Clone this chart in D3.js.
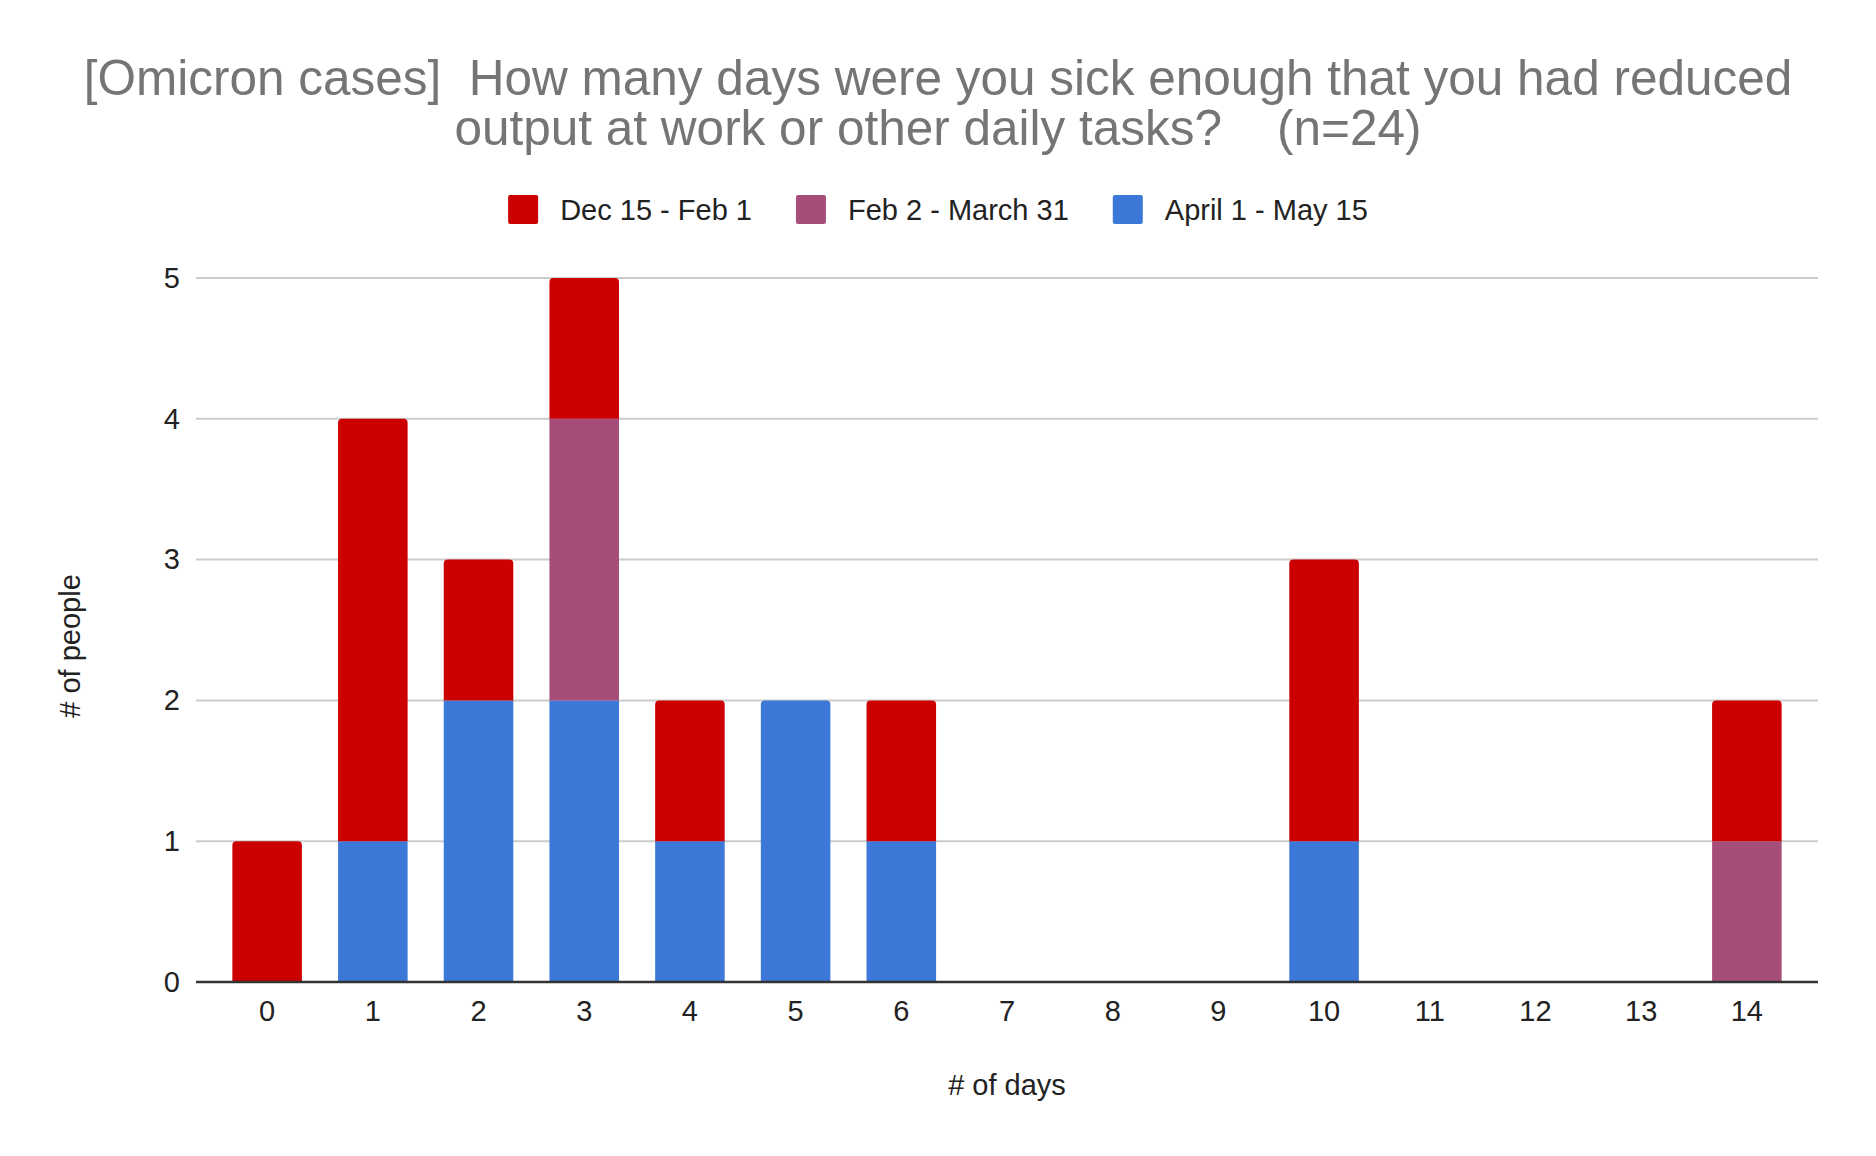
<!DOCTYPE html>
<html><head><meta charset="utf-8">
<script src="https://cdn.jsdelivr.net/npm/d3@7"></script>
<style>body{margin:0;background:#fff}text{font-family:"Liberation Sans",Arial,sans-serif}</style>
</head><body>
<svg id="c" width="1876" height="1156"></svg>
<script>
const days = ["0","1","2","3","4","5","6","7","8","9","10","11","12","13","14"];
const seriesNames = ["Dec 15 - Feb 1","Feb 2 - March 31","April 1 - May 15"];
const seriesColors = ["#cc0000","#a64d79","#3c78d8"];
const decValues   = [1,3,1,1,1,0,1,0,0,0,2,0,0,0,1];
const febValues   = [0,0,0,2,0,0,0,0,0,0,0,0,0,0,1];
const aprilValues = [0,1,2,2,1,2,1,0,0,0,1,0,0,0,0];
const yTicks = [0,1,2,3,4,5];
const titleLines = ["[Omicron cases]  How many days were you sick enough that you had reduced","output at work or other daily tasks?    (n=24)"];
const xTitle = "# of days", yTitle = "# of people";

const svg = d3.select("#c");
const W = 1876;
const m = {left:196, right:1818, top:278, bottom:982};
const x = d3.scaleBand().domain(days).range([m.left,m.right]).paddingInner(0.342).paddingOuter(0.344);
const y = d3.scaleLinear().domain([0,5]).range([m.bottom,m.top]);

// title
svg.append("g").selectAll("text").data(titleLines).join("text")
  .attr("x",W/2).attr("y",(d,i)=>95+i*50).attr("text-anchor","middle")
  .attr("font-size",49.5).attr("fill","#757575").style("white-space","pre").text(d=>d);

// legend
const lg = svg.append("g");
let cx = 0;
seriesNames.forEach((n,i)=>{
  const g = lg.append("g");
  g.append("rect").attr("x",cx).attr("y",-15).attr("width",30).attr("height",29).attr("rx",2).attr("fill",seriesColors[i]);
  const t = g.append("text").attr("x",cx+52).attr("y",10).attr("font-size",29).attr("fill","#222").text(n);
  cx += 52 + t.node().getComputedTextLength() + 44;
});
const lw = cx-44;
lg.attr("transform",`translate(${W/2-lw/2},210)`);

// grid
svg.append("g").selectAll("line").data(yTicks.filter(d=>d>0)).join("line")
  .attr("x1",m.left).attr("x2",m.right).attr("y1",d=>y(d)).attr("y2",d=>y(d))
  .attr("stroke","#cccccc").attr("stroke-width",2);

// y axis
const ya = svg.append("g").attr("transform",`translate(${m.left},0)`)
  .call(d3.axisLeft(y).tickValues(yTicks).tickFormat(d3.format("d")).tickSize(0).tickPadding(16));
ya.select(".domain").remove();
ya.selectAll("text").attr("font-size",29).attr("fill","#222").attr("font-family","Liberation Sans, Arial, sans-serif");

// stacks
const rows = days.map((d,i)=>({day:d, april:aprilValues[i], feb:febValues[i], dec:decValues[i]}));
const stack = d3.stack().keys(["april","feb","dec"])(rows);
const colorOf = {april:seriesColors[2], feb:seriesColors[1], dec:seriesColors[0]};
const bw = x.bandwidth();
function barPath(x0,y0,y1,w,r){
  return `M${x0},${y0}V${y1+r}Q${x0},${y1} ${x0+r},${y1}H${x0+w-r}Q${x0+w},${y1} ${x0+w},${y1+r}V${y0}Z`;
}
stack.forEach(s=>{
  svg.append("g").selectAll("path").data(s.filter(d=>d[1]>d[0])).join("path")
    .attr("fill",colorOf[s.key])
    .attr("d",d=>{
      const top = d[1]===(d.data.april+d.data.feb+d.data.dec);
      return barPath(x(d.data.day),y(d[0]),y(d[1]),bw, top?4:0);
    });
});

// baseline
svg.append("line").attr("x1",m.left).attr("x2",m.right).attr("y1",y(0)).attr("y2",y(0))
  .attr("stroke","#333").attr("stroke-width",2.5);

// x axis
const xa = svg.append("g").attr("transform",`translate(0,${m.bottom})`)
  .call(d3.axisBottom(x).tickSize(0).tickPadding(18));
xa.select(".domain").remove();
xa.selectAll("text").attr("font-size",29).attr("fill","#222").attr("font-family","Liberation Sans, Arial, sans-serif");

svg.append("text").attr("x",(m.left+m.right)/2).attr("y",1095).attr("text-anchor","middle")
  .attr("font-size",29).attr("fill","#222").text(xTitle);
svg.append("text").attr("transform","translate(80,646) rotate(-90)").attr("text-anchor","middle")
  .attr("font-size",29).attr("fill","#222").text(yTitle);
</script>
</body></html>
